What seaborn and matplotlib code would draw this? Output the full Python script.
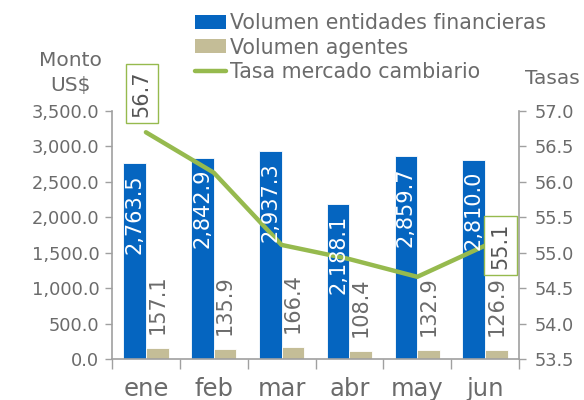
import numpy as np
import pandas as pd
import matplotlib
matplotlib.use("Agg")
import matplotlib.pyplot as plt
import seaborn as sns
from matplotlib.patches import Patch
from matplotlib.lines import Line2D
from matplotlib.ticker import FixedLocator, MultipleLocator, FuncFormatter

meses = ["ene", "feb", "mar", "abr", "may", "jun"]
vol_entidades = [2763.5, 2842.9, 2937.3, 2188.1, 2859.7, 2810.0]
vol_agentes = [157.1, 135.9, 166.4, 108.4, 132.9, 126.9]
tasa = [56.7, 56.13, 55.11, 54.91, 54.66, 55.1]
serie_names = ["Volumen entidades financieras", "Volumen agentes", "Tasa mercado cambiario"]

BLUE = "#0565C0"
TAN = "#C4BD97"
GREEN = "#96BA4E"
GRAY = "#6B6B6B"
DARK = "#555555"
SPINE = "#A0A0A0"

sns.set_theme(style="white")
plt.rcParams["font.family"] = ["DejaVu Sans"]

df = pd.DataFrame({
    "mes": meses * 2,
    "valor": vol_entidades + vol_agentes,
    "serie": [serie_names[0]] * len(meses) + [serie_names[1]] * len(meses),
})

fig = plt.figure(figsize=(5.84, 4.0), dpi=100)
ax1 = fig.add_axes([112 / 584, 1 - 359 / 400, (519 - 112) / 584, (359 - 111) / 400])

sns.barplot(data=df, x="mes", y="valor", hue="serie", order=meses,
            hue_order=serie_names[:2], palette=[BLUE, TAN], saturation=1,
            width=0.67, gap=0, legend=False, ax=ax1,
            edgecolor="white", linewidth=0.6)

ax2 = ax1.twinx()
sns.lineplot(x=np.arange(len(meses)), y=tasa, color=GREEN, linewidth=3.2, ax=ax2)

ax1.set_xlim(-0.5, len(meses) - 0.5)
ax1.set_xticks(np.arange(len(meses)))
ax1.set_xticklabels(meses)
ax1.set_ylim(0, 3500)
ax2.set_ylim(53.5, 57.0)
ax1.yaxis.set_major_locator(MultipleLocator(500))
ax2.yaxis.set_major_locator(MultipleLocator(0.5))
ax1.yaxis.set_major_formatter(FuncFormatter(lambda v, p: f"{v:,.1f}"))
ax2.yaxis.set_major_formatter(FuncFormatter(lambda v, p: f"{v:.1f}"))
ax1.set_xlabel("")
ax1.set_ylabel("")
ax2.set_ylabel("")

for ax in (ax1, ax2):
    for s in ax.spines.values():
        s.set_visible(False)
ax1.spines["left"].set_visible(True)
ax1.spines["bottom"].set_visible(True)
ax2.spines["right"].set_visible(True)
for s in (ax1.spines["left"], ax1.spines["bottom"], ax2.spines["right"]):
    s.set_color(SPINE)
    s.set_linewidth(1.2)

ax1.tick_params(axis="y", direction="out", length=5, width=1, color=SPINE,
                labelsize=12.8, labelcolor=GRAY, pad=4, left=True)
ax2.tick_params(axis="y", direction="out", length=5, width=1, color=SPINE,
                labelsize=12.8, labelcolor=GRAY, pad=6, right=True)
ax1.tick_params(axis="x", which="major", length=0, labelsize=17.5, labelcolor=GRAY, pad=13)
ax1.xaxis.set_minor_locator(FixedLocator(np.arange(-0.5, len(meses), 1.0)))
ax1.tick_params(axis="x", which="minor", direction="out", length=7, width=1,
                color=SPINE, bottom=True)
ax2.tick_params(axis="x", which="both", bottom=False, top=False,
                labelbottom=False, labeltop=False)

# bar labels drawn on ax2 so they sit above the line
blue_bars, tan_bars = ax1.containers[0], ax1.containers[1]
for p, v in zip(blue_bars, vol_entidades):
    ax2.annotate(f"{v:,.1f}", xy=(p.get_x() + p.get_width() / 2, p.get_height()),
                 xycoords=ax1.transData, xytext=(0, -8), textcoords="offset points",
                 rotation=90, ha="center", va="top", color="white", fontsize=15)
for p, v in zip(tan_bars, vol_agentes):
    ax2.annotate(f"{v:,.1f}", xy=(p.get_x() + p.get_width() / 2, p.get_height()),
                 xycoords=ax1.transData, xytext=(0, 10), textcoords="offset points",
                 rotation=90, ha="center", va="bottom", color=GRAY, fontsize=15)

box = dict(boxstyle="square,pad=0.3", facecolor="white", edgecolor=GREEN, linewidth=1)
ax2.annotate(f"{tasa[0]:.1f}", xy=(0, tasa[0]), xytext=(-3, 28), textcoords="offset points",
             rotation=90, ha="center", va="center", color=DARK, fontsize=15, bbox=box)
ax2.annotate(f"{tasa[-1]:.1f}", xy=(len(meses) - 1, tasa[-1]), xytext=(11, 0),
             textcoords="offset points", rotation=90, ha="center", va="center",
             color=DARK, fontsize=15, bbox=box)

handles = [Patch(facecolor=BLUE, edgecolor="none"), Patch(facecolor=TAN, edgecolor="none"),
           Line2D([0], [0], color=GREEN, linewidth=3.2)]
fig.legend(handles, serie_names, loc="upper left", bbox_to_anchor=(195 / 584, 1 - 13 / 400),
           frameon=False, fontsize=14.8, labelcolor=GRAY, borderpad=0, borderaxespad=0,
           handlelength=1.5, handletextpad=0.2, labelspacing=0.22, handleheight=0.65)

fig.text(70 / 584, 1 - 73 / 400, "Monto\nUS$", ha="center", va="center", color=GRAY,
         fontsize=14.5, linespacing=1.35)
fig.text(552 / 584, 1 - 78 / 400, "Tasas", ha="center", va="center", color=GRAY, fontsize=14.5)

fig.savefig("out.png", dpi=100)
